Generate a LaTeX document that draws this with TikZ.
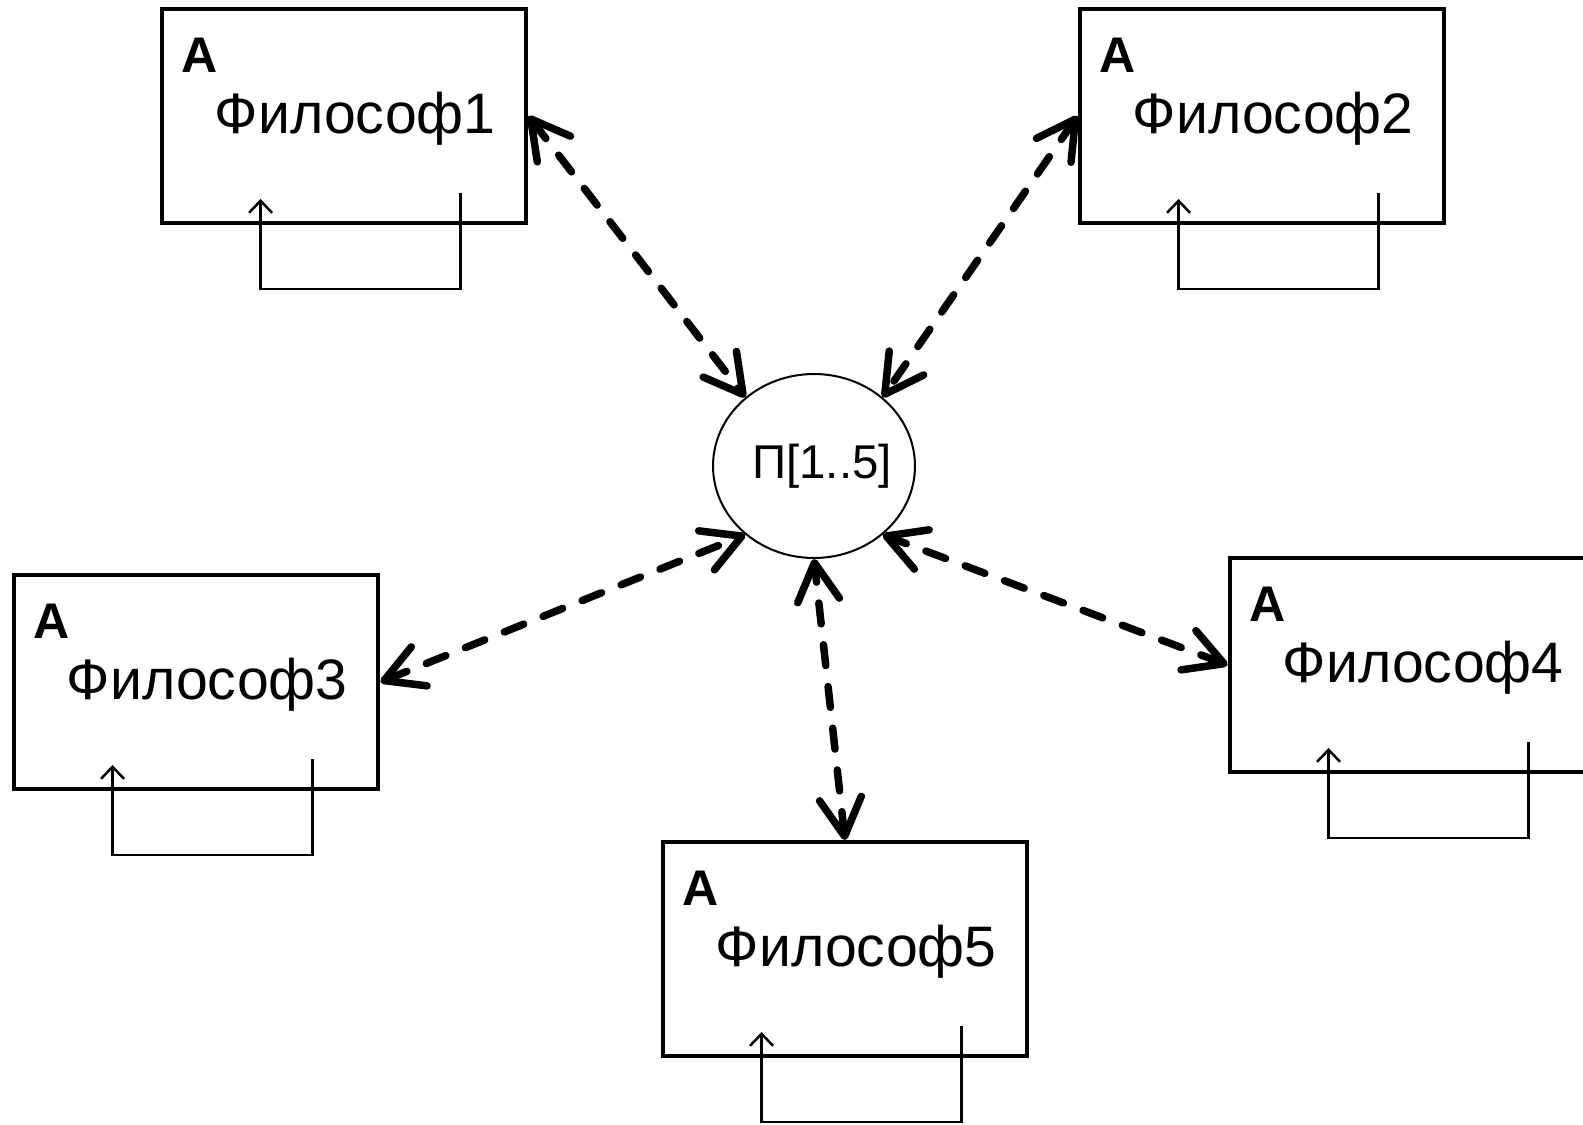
\documentclass[tikz,border=0pt]{standalone}
\usepackage{fontspec}
\setmainfont{Liberation Sans}
\usetikzlibrary{arrows.meta,shapes.geometric}

\begin{document}
\begin{tikzpicture}[x=0.02cm,y=-0.02cm,
    philbox/.style={draw,line width=0.8mm,minimum width=7.3cm,minimum height=4.28cm,inner sep=0},
    forkset/.style={draw,ellipse,line width=0.4mm,minimum width=4.04cm,minimum height=3.68cm,inner sep=0},
    share/.style={line width=1.5mm,dash pattern=on 4.2mm off 4.2mm,line cap=round,
        {Straight Barb[length=7.6mm,width=8.4mm,round]}-{Straight Barb[length=7.6mm,width=8.4mm,round]}},
    selfloop/.style={line width=0.5mm,-{Straight Barb[length=2.4mm,width=4.6mm]}}]
    \providecommand{\namefontsize}{\fontsize{32.5}{38}\selectfont}
    \providecommand{\tagfontsize}{\fontsize{28.5}{34}\selectfont}
    \providecommand{\forkfontsize}{\fontsize{27}{32}\selectfont}
    \useasboundingbox (0,0) rectangle (1583,1125);
    \clip (0,0) rectangle (1583,1125);
    \node[forkset] (forks) at (814,466) {};
    \node[font=\forkfontsize,inner sep=0] (forkname) at (822,466) {П[1..5]};
    \node[philbox] (phil1) at (344,116) {};
    \node[philbox] (phil2) at (1262,116) {};
    \node[philbox] (phil3) at (196,682) {};
    \node[philbox] (phil4) at (1412,665) {};
    \node[philbox] (phil5) at (845,949) {};
    % labels and the loop under each box
    \foreach \i in {1,...,5} {
        \node[anchor=base west,inner sep=0,font=\bfseries\tagfontsize] (tag\i) at ([shift={(22,65)}]phil\i.north west) {A};
        \node[anchor=base west,inner sep=0,font=\namefontsize] (name\i) at ([shift={(55,126)}]phil\i.north west) {Философ\i};
        \coordinate (out\i) at ([shift={(301,-32)}]phil\i.south west);
        \coordinate (in\i) at ([shift={(101,-26)}]phil\i.south west);
        \draw[selfloop] (out\i) -- ++(0,96) -| (in\i);
    }
    \draw[share] (phil1.east) -- (forks.135);
    \draw[share] (phil2.west) -- (forks.45);
    \draw[share] (phil3.east) -- (forks.-135);
    \draw[share] (phil4.west) -- (forks.-45);
    \draw[share] (phil5.north) -- (forks.south);
\end{tikzpicture}
\end{document}
